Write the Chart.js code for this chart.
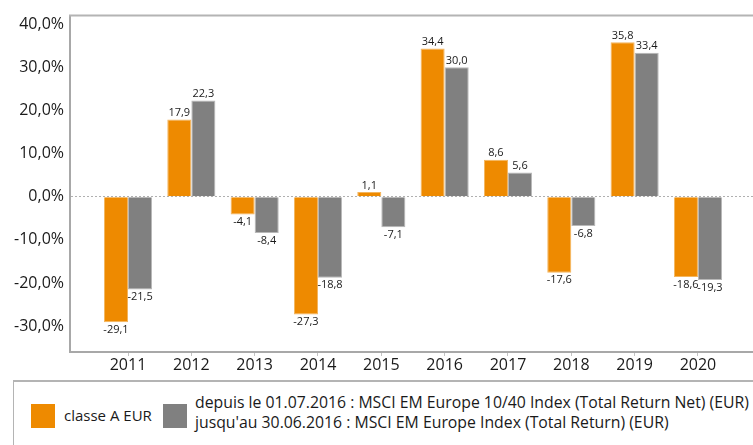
<!DOCTYPE html>
<html>
<head>
<meta charset="utf-8">
<script src="https://cdn.jsdelivr.net/npm/chart.js@4/dist/chart.umd.min.js"></script>
<style>
  body { margin: 0; background: #fff; font-family: "Open Sans", sans-serif; }
  #wrap { position: absolute; left: 0; top: 0; width: 753px; height: 378px; }
  #legend {
    position: absolute; left: 13px; top: 380px; width: 760px; height: 80px;
    border-top: 2px solid #b4b4b4; border-left: 1px solid #b4b4b4;
    color: #1a1a1a;
  }
  .sw { position: absolute; top: 22px; width: 24px; height: 24px; }
  .txt { position: absolute; white-space: nowrap; line-height: 20px; }
</style>
</head>
<body>
<div id="wrap"><canvas id="chart"></canvas></div>
<div id="legend">
  <div class="sw" style="left:17px;background:#ee8a00"></div>
  <div class="txt" style="left:50px;top:23px;font-size:15px">classe A EUR</div>
  <div class="sw" style="left:149px;background:#808080"></div>
  <div class="txt" style="left:181px;top:10px;font-size:15.8px">depuis le 01.07.2016 : MSCI EM Europe 10/40 Index (Total Return Net) (EUR)<br>jusqu'au 30.06.2016 : MSCI EM Europe Index (Total Return) (EUR)</div>
</div>
<script>
const years = [2011, 2012, 2013, 2014, 2015, 2016, 2017, 2018, 2019, 2020];
const fundValues = [-29.1, 17.9, -4.1, -27.3, 1.1, 34.4, 8.6, -17.6, 35.8, -18.6];
const indexValues = [-21.5, 22.3, -8.4, -18.8, -7.1, 30.0, 5.6, -6.8, 33.4, -19.3];
const yTicks = [-30, -20, -10, 0, 10, 20, 30, 40];

const fmt = (v) => v.toFixed(1).replace(".", ",");

const valueLabels = {
  id: "valueLabels",
  afterDatasetsDraw(chart) {
    const ctx = chart.ctx;
    ctx.save();
    ctx.font = '11px "Open Sans"';
    ctx.fillStyle = "#1a1a1a";
    ctx.textAlign = "center";
    chart.data.datasets.forEach((ds, i) => {
      chart.getDatasetMeta(i).data.forEach((bar, j) => {
        const v = ds.data[j].y;
        if (v >= 0) {
          ctx.textBaseline = "bottom";
          ctx.fillText(fmt(v), bar.x, bar.y - 1);
        } else {
          ctx.textBaseline = "top";
          ctx.fillText(fmt(v), bar.x, bar.y + 2);
        }
      });
    });
    ctx.restore();
  },
};

const frameTop = {
  id: "frameTop",
  afterDraw(chart) {
    const { ctx, chartArea: a } = chart;
    ctx.save();
    ctx.strokeStyle = "#b4b4b4";
    ctx.lineWidth = 2;
    ctx.beginPath();
    ctx.moveTo(a.left - 1, a.top);
    ctx.lineTo(a.right, a.top);
    ctx.stroke();
    ctx.restore();
  },
};

new Chart(document.getElementById("chart"), {
  type: "bar",
  data: {
    datasets: [
      {
        label: "classe A EUR",
        data: years.map((y, i) => ({ x: y, y: fundValues[i] })),
        backgroundColor: "#ee8a00",
        borderColor: "#f3b55e",
        borderWidth: 1,
      },
      {
        label: "MSCI EM Europe",
        data: years.map((y, i) => ({ x: y, y: indexValues[i] })),
        backgroundColor: "#808080",
        borderColor: "#b8b8b8",
        borderWidth: 1,
      },
    ],
  },
  options: {
    responsive: true,
    maintainAspectRatio: false,
    animation: false,
    categoryPercentage: 0.76,
    barPercentage: 1,
    layout: { padding: { top: 13, left: 0, right: 0, bottom: 0 } },
    plugins: { legend: { display: false }, tooltip: { enabled: false } },
    scales: {
      x: {
        type: "linear",
        offset: false,
        min: 2010.084,
        max: 2020.869,
        afterBuildTicks: (s) => { s.ticks = years.map((v) => ({ value: v })); },
        afterFit: (s) => { s.height = 26; },
        ticks: {
          callback: (v) => String(v),
          color: "#1a1a1a",
          font: { family: "Open Sans", size: 16 },
          padding: 0,
          maxRotation: 0,
          autoSkip: false,
        },
        grid: { offset: false, drawOnChartArea: false, drawTicks: true, tickLength: 4, tickColor: "#c4c4c4" },
        border: { color: "#a8a8a8", width: 2 },
      },
      y: {
        min: -36,
        max: 42,
        afterBuildTicks: (s) => { s.ticks = yTicks.map((v) => ({ value: v })); },
        afterFit: (s) => { s.width = 70; },
        ticks: {
          callback: (v) => fmt(v) + "%",
          color: "#1a1a1a",
          font: { family: "Open Sans", size: 16 },
          padding: 6,
        },
        grid: {
          drawTicks: false,
          color: (c) => (c.tick && c.tick.value === 0 ? "#b0b0b0" : "rgba(0,0,0,0)"),
          lineWidth: 1,
        },
        border: { color: "#a8a8a8", width: 2, dash: [2, 2] },
      },
    },
  },
  plugins: [valueLabels, frameTop],
});
</script>
</body>
</html>
